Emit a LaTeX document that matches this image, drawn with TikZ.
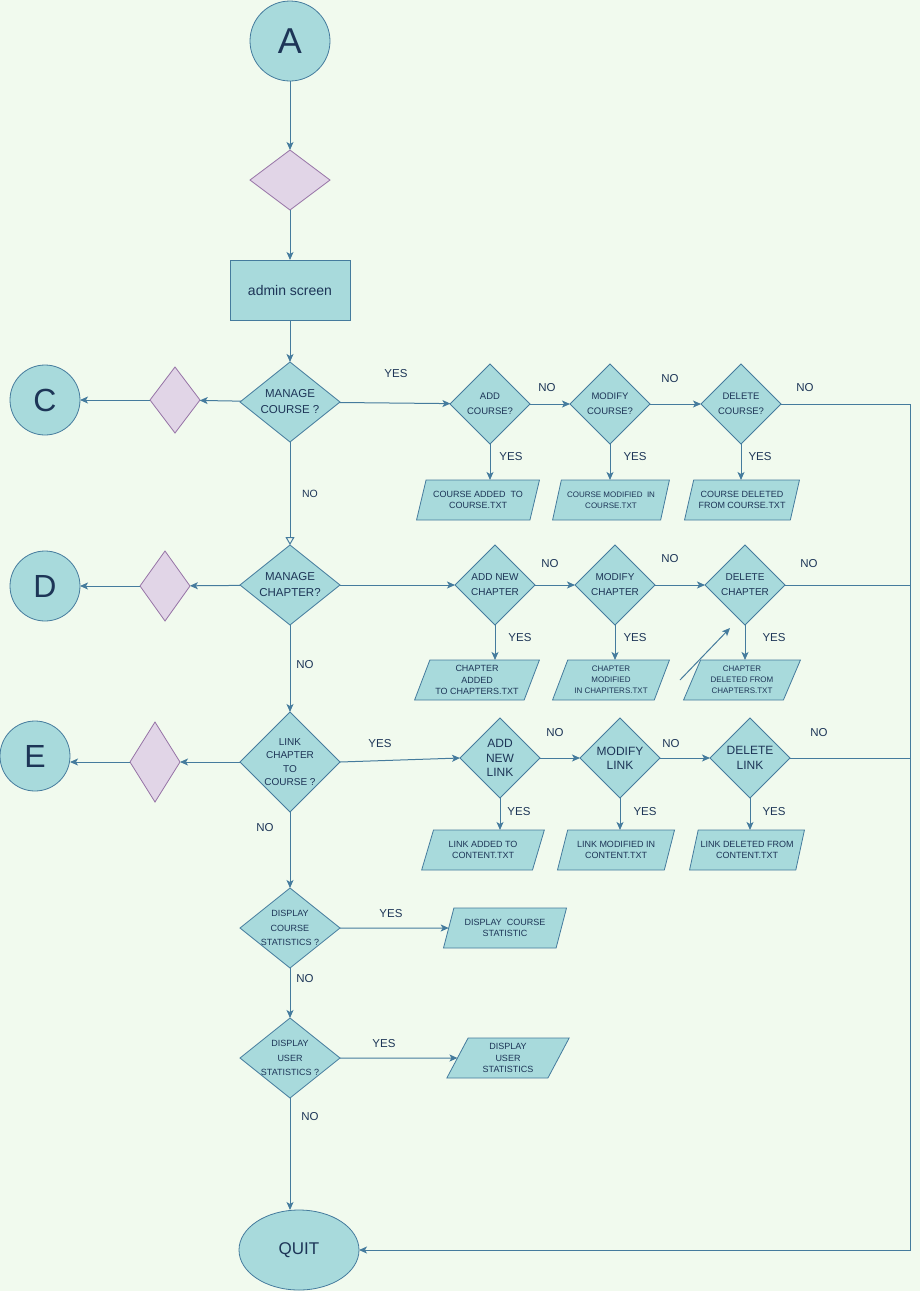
\documentclass[tikz,border=0pt]{standalone}
\usepackage{fontspec}
\setmainfont{Liberation Sans}
\usetikzlibrary{shapes.geometric,arrows.meta}
\definecolor{bg}{HTML}{F1FAEE}
\definecolor{tfill}{HTML}{A8DADC}
\definecolor{tline}{HTML}{457B9D}
\definecolor{ttext}{HTML}{1D3557}
\definecolor{pfill}{HTML}{E1D5E7}
\definecolor{pline}{HTML}{9673A6}
\newcommand\fsz[2]{\fontsize{#1pt}{#2pt}\selectfont}
\begin{document}
\begin{tikzpicture}[x=1pt,y=-1pt,
  every node/.style={text=ttext, inner sep=0pt, outer sep=0pt},
  circ/.style={circle, draw=tline, fill=tfill, line width=0.8pt, minimum size=#1},
  dia/.style 2 args={diamond, draw=tline, fill=tfill, line width=0.8pt, minimum width=#1, minimum height=#2},
  pdia/.style 2 args={diamond, draw=pline, fill=pfill, line width=0.8pt, minimum width=#1, minimum height=#2},
  dt/.style 2 args={font=\fsz{#1}{#2}, align=center, text=ttext},
  para/.style={trapezium, trapezium left angle=65, trapezium right angle=115, trapezium stretches=true,
    draw=tline, fill=tfill, line width=0.8pt, minimum height=40, minimum width=#1, align=center, font=\fsz{9}{11.3}},
  rectbox/.style={rectangle, draw=tline, fill=tfill, line width=0.8pt, minimum width=120, minimum height=60, font=\fsz{14}{16}},
  lbl/.style={font=\fsz{11.5}{13}, text=ttext},
  ln/.style={draw=tline, line width=1pt},
  arr/.style={ln, -{Stealth[length=8pt,width=7pt,inset=2pt]}},
  oarr/.style={ln, -{Triangle[open,length=8pt,width=9pt,fill=bg]}}
]
\fill[bg] (0,0) rectangle (920,1291);
\useasboundingbox (0,0) rectangle (920,1291);

% top
\node[circ=80, font=\fsz{36}{36}] (A) at (290,41) {A};
\node[pdia={80}{60}] (pd1) at (290,180) {};
\node[rectbox] (admin) at (290,290) {admin screen};

% course row
\node[dia={100}{80}, label={[dt={11.5}{16}]center:MANAGE\\COURSE ?}] (mc) at (290,402) {};
\node[pdia={50}{66}] (pc) at (175,400) {};
\node[circ=70, font=\fsz{32}{32}] (C) at (45,400) {C};
\node[dia={80}{80}, label={[dt={9.5}{15}]center:ADD\\COURSE?}] (addc) at (490,404) {};
\node[dia={80}{80}, label={[dt={9.5}{15}]center:MODIFY\\COURSE?}] (modc) at (610,404) {};
\node[dia={80}{80}, label={[dt={9.5}{15}]center:DELETE\\COURSE?}] (delc) at (741,404) {};
\node[para=123] (pa1) at (478,500) {COURSE ADDED\ \ TO\\COURSE.TXT};
\node[para=117, font=\fsz{8}{11}] (pa2) at (611,500) {COURSE MODIFIED\ \ IN\\COURSE.TXT};
\node[para=115] (pa3) at (742,500) {COURSE DELETED\\FROM COURSE.TXT};

% chapter row
\node[dia={100}{80}, label={[dt={11.5}{16}]center:MANAGE\\CHAPTER?}] (mch) at (290,585) {};
\node[pdia={50}{70}] (pd) at (165,586) {};
\node[circ=70, font=\fsz{32}{32}] (D) at (45,586) {D};
\node[dia={80}{80}, label={[dt={10}{15}]center:ADD NEW\\CHAPTER}] (addch) at (495,585) {};
\node[dia={80}{80}, label={[dt={10}{15}]center:MODIFY\\CHAPTER}] (modch) at (615,585) {};
\node[dia={80}{80}, label={[dt={10}{15}]center:DELETE\\CHAPTER}] (delch) at (745,585) {};
\node[para=125] (pb1) at (477,680) {CHAPTER\\ADDED\\TO CHAPTERS.TXT};
\node[para=118, font=\fsz{8}{11}] (pb2) at (611,680) {CHAPTER\\MODIFIED\\IN CHAPITERS.TXT};
\node[para=117, font=\fsz{8}{11}] (pb3) at (742,680) {CHAPTER\\DELETED FROM\\CHAPTERS.TXT};
\coordinate (s1) at (680,680);
\coordinate (s2) at (730,628);

% link row
\node[dia={100}{100}, label={[dt={10}{13.3}]center:LINK\\CHAPTER\\TO\\COURSE ?}] (link) at (290,762) {};
\node[pdia={50}{80}] (pe) at (155,762) {};
\node[circ=70, font=\fsz{32}{32}] (E) at (35,756) {E};
\node[dia={80}{80}, label={[dt={12}{14.3}]center:ADD\\NEW\\LINK}] (addl) at (500,758) {};
\node[dia={80}{80}, label={[dt={12}{14.3}]center:MODIFY\\LINK}] (modl) at (620,758) {};
\node[dia={80}{80}, label={[dt={12}{14.3}]center:DELETE\\LINK}] (dell) at (750,758) {};
\node[para=123] (pc1) at (483,850) {LINK ADDED TO\\CONTENT.TXT};
\node[para=118] (pc2) at (616,850) {LINK MODIFIED IN\\CONTENT.TXT};
\node[para=115] (pc3) at (747,850) {LINK DELETED FROM\\CONTENT.TXT};

% statistics
\node[dia={100}{80}, label={[dt={9}{14.3}]center:DISPLAY\\COURSE\\STATISTICS ?}] (dcs) at (290,928) {};
\node[para=124] (pds) at (505,928) {DISPLAY\ \ COURSE\\STATISTIC};
\node[dia={100}{80}, label={[dt={9}{14.3}]center:DISPLAY\\USER\\STATISTICS ?}] (dus) at (290,1058) {};
\node[para=123] (pdu) at (508,1058) {DISPLAY\\USER\\STATISTICS};

% quit
\node[ellipse, draw=tline, fill=tfill, line width=0.8pt, minimum width=120, minimum height=80, font=\fsz{17}{17}] (quit) at (299,1250) {QUIT};

% right rail coordinates
\coordinate (r1) at (910,404);
\coordinate (r2) at (910,585);
\coordinate (r3) at (910,758);
\coordinate (r4) at (910,1250);
\coordinate (eend) at (70,762);

% connectors
\draw[arr] (A) -- (pd1);
\draw[arr] (pd1) -- (admin);
\draw[arr] (admin) -- (mc);
\draw[arr] (mc) -- (pc);
\draw[arr] (pc) -- (C);
\draw[arr] (mc) -- (addc);
\draw[arr] (addc) -- (modc);
\draw[arr] (modc) -- (delc);
\draw[ln] (delc) -- (r1);
\draw[arr] (r1) -- (r4) -- (quit);
\draw[arr] (addc.south) -- (addc.south |- pa1.north);
\draw[arr] (modc.south) -- (modc.south |- pa2.north);
\draw[arr] (delc.south) -- (delc.south |- pa3.north);
\draw[oarr] (mc) -- (mch);

\draw[arr] (mch) -- (pd);
\draw[arr] (pd) -- (D);
\draw[arr] (mch) -- (addch);
\draw[arr] (addch) -- (modch);
\draw[arr] (modch) -- (delch);
\draw[ln] (delch) -- (r2);
\draw[arr] (addch.south) -- (addch.south |- pb1.north);
\draw[arr] (modch.south) -- (modch.south |- pb2.north);
\draw[arr] (delch.south) -- (delch.south |- pb3.north);
\draw[arr] (s1) -- (s2);
\draw[arr] (mch) -- (link);

\draw[arr] (link) -- (pe);
\draw[arr] (pe.west) -- (eend);
\draw[arr] (link.east) -- (addl.west);
\draw[arr] (addl) -- (modl);
\draw[arr] (modl) -- (dell);
\draw[ln] (dell) -- (r3);
\draw[arr] (addl.south) -- (addl.south |- pc1.north);
\draw[arr] (modl.south) -- (modl.south |- pc2.north);
\draw[arr] (dell.south) -- (dell.south |- pc3.north);
\draw[arr] (link) -- (dcs);

\draw[arr] (dcs) -- (pds);
\draw[arr] (dcs) -- (dus);
\draw[arr] (dus) -- (pdu);
\draw[arr] (dus.south) -- (dus.south |- quit.north);

% labels
\node[lbl] (y1) at (396,374) {YES};
\node[lbl] (n1) at (547,388) {NO};
\node[lbl] (n2) at (670,379) {NO};
\node[lbl] (n3) at (805,388) {NO};
\node[lbl] (y2) at (511,457) {YES};
\node[lbl] (y3) at (635,457) {YES};
\node[lbl] (y4) at (760,457) {YES};
\node[lbl, font=\fsz{10.5}{12}] (n4) at (310,494) {NO};
\node[lbl] (n5) at (550,564) {NO};
\node[lbl] (n6) at (670,559) {NO};
\node[lbl] (n7) at (809,564) {NO};
\node[lbl] (y5) at (520,638) {YES};
\node[lbl] (y6) at (635,638) {YES};
\node[lbl] (y7) at (774,638) {YES};
\node[lbl] (n8) at (305,665) {NO};
\node[lbl] (y8) at (380,744) {YES};
\node[lbl] (n9) at (555,733) {NO};
\node[lbl] (n10) at (671,744) {NO};
\node[lbl] (n11) at (819,733) {NO};
\node[lbl] (y9) at (519,812) {YES};
\node[lbl] (y10) at (645,812) {YES};
\node[lbl] (y11) at (774,812) {YES};
\node[lbl] (n12) at (265,828) {NO};
\node[lbl] (y12) at (391,914) {YES};
\node[lbl] (n13) at (305,979) {NO};
\node[lbl] (y13) at (384,1044) {YES};
\node[lbl] (n14) at (310,1117) {NO};
\end{tikzpicture}
\end{document}
